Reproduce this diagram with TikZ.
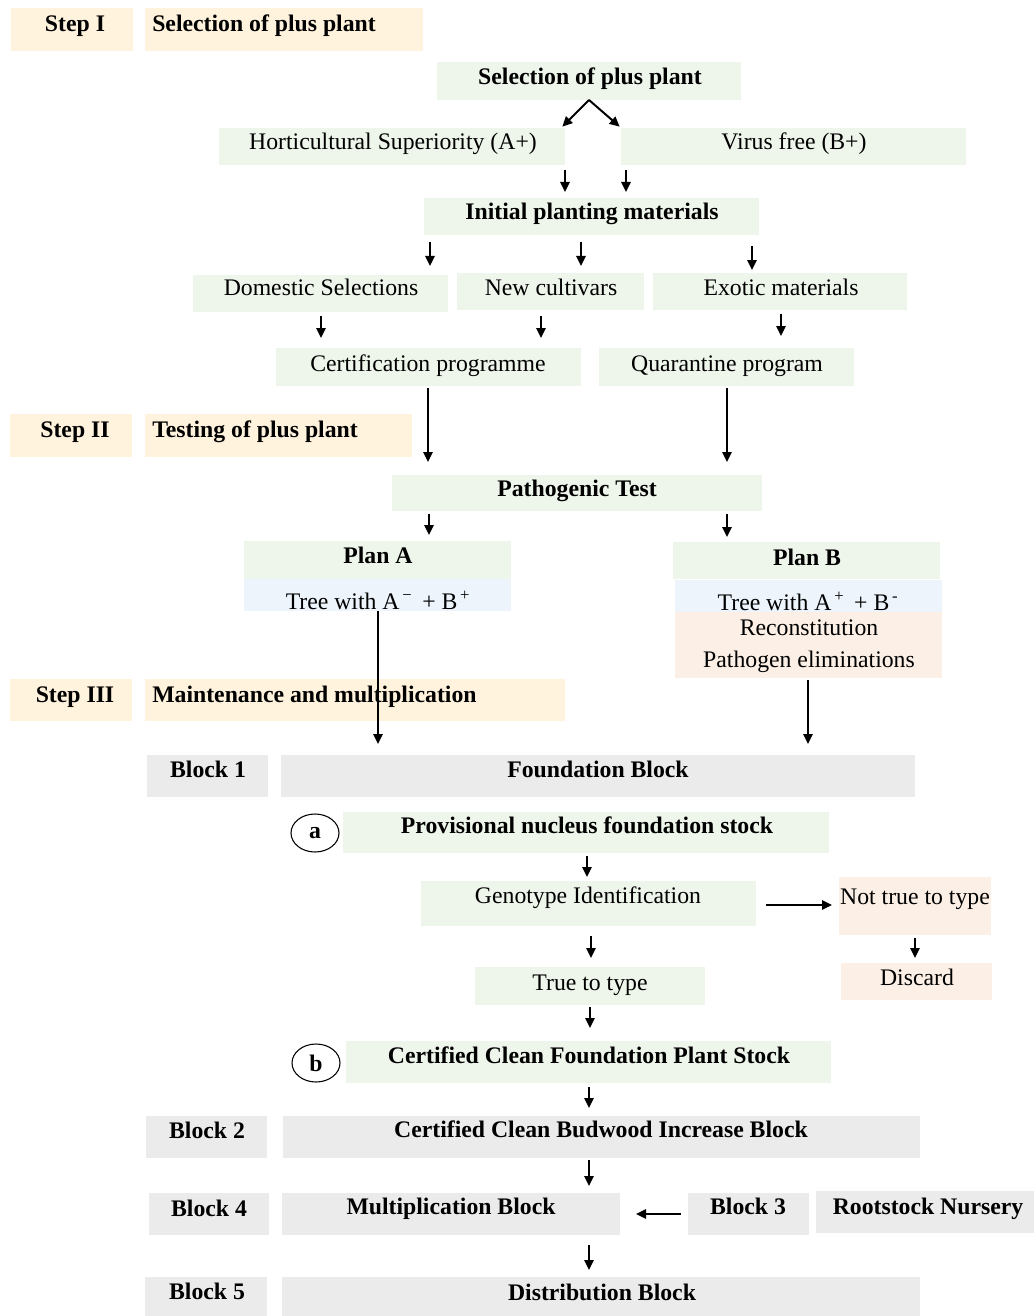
\documentclass[tikz,border=0pt]{standalone}
\usepackage{fontspec}
\setmainfont{Liberation Serif}
\usetikzlibrary{arrows.meta,shapes.geometric}
\definecolor{cream}{HTML}{FFF3DD}
\definecolor{lgreen}{HTML}{EEF5EA}
\definecolor{lblue}{HTML}{EDF4FB}
\definecolor{peach}{HTML}{FBEFE6}
\definecolor{lgray}{HTML}{EBEBEB}
\newcommand\bx[6]{\node[boxs,fill=#6,minimum width={(#4-#2)*0.75pt},minimum height={(#5-#3)*0.75pt}] (#1) at ({(#2+#4)/2},{(#3+#5)/2}) {};}
\begin{document}
\begin{tikzpicture}[x=0.75pt,y=-0.75pt,
  boxs/.style={draw=none,inner sep=0pt,outer sep=0pt,rectangle},
  tn/.style={anchor=base,inner sep=0pt,font=\fontsize{17.8}{20}\selectfont},
  tb/.style={tn,font=\fontsize{17.8}{20}\selectfont\bfseries},
  tl/.style={tb,anchor=base west},
  arr/.style={line width=1.5pt,-{Triangle[length=7.5pt,width=7pt]}},
  circ/.style={draw,ellipse,line width=0.8pt,inner sep=0pt,minimum width=36pt,minimum height=28.5pt,font=\fontsize{17.8}{20}\selectfont\bfseries}]
\useasboundingbox (0,0) rectangle (1034,1316);
% Step I
\bx{s1}{11}{8}{133}{51}{cream}
\node[tb] (s1t) at (75,32) {Step I};
\bx{h1}{145}{8}{423}{51}{cream}
\node[tl] (h1t) at (152,32) {Selection of plus plant};
\bx{sel}{437}{62}{741}{100}{lgreen}
\node[tb] (selt) at (590,85) {Selection of plus plant};
\bx{hort}{219}{128}{565}{165}{lgreen}
\node[tn] (hortt) at (393,150) {Horticultural Superiority (A+)};
\bx{vir}{621}{128}{966}{165}{lgreen}
\node[tn] (virt) at (794,150) {Virus free (B+)};
\bx{init}{424}{198}{759}{235}{lgreen}
\node[tb] (initt) at (592,220) {Initial planting materials};
\bx{dom}{193}{275}{448}{312}{lgreen}
\node[tn] (domt) at (321,296) {Domestic Selections};
\bx{newc}{457}{273}{644}{310}{lgreen}
\node[tn] (newct) at (551,296) {New cultivars};
\bx{exo}{653}{273}{907}{310}{lgreen}
\node[tn] (exot) at (781,296) {Exotic materials};
\bx{cert}{276}{348}{581}{386}{lgreen}
\node[tn] (certt) at (428,371) {Certification programme};
\bx{quar}{599}{348}{854}{386}{lgreen}
\node[tn] (quart) at (727,371) {Quarantine program};
% Step II
\bx{s2}{10}{414}{132}{457}{cream}
\node[tb] (s2t) at (75,437) {Step II};
\bx{h2}{145}{414}{412}{457}{cream}
\node[tl] (h2t) at (152,437) {Testing of plus plant};
\bx{path}{392}{475}{762}{511}{lgreen}
\node[tb] (patht) at (577,496) {Pathogenic Test};
\bx{pa}{244}{541}{511}{579}{lgreen}
\node[tb] (pat) at (378,563) {Plan A};
\bx{ta}{244}{579}{511}{611}{lblue}
\node[tn] (tat) at (378,609) {Tree with A\textsuperscript{\,−}\,\ + B\textsuperscript{\,+}};
\bx{pb}{673}{542}{940}{579}{lgreen}
\node[tb] (pbt) at (807,565) {Plan B};
\bx{tb}{675}{580}{942}{612}{lblue}
\node[tn] (tbt) at (808,610) {Tree with A\textsuperscript{\,+}\,\ + B\textsuperscript{\,-}};
\bx{rec}{675}{612}{942}{645}{peach}
\node[tn] (rect) at (809,635) {Reconstitution};
\bx{pel}{675}{645}{942}{678}{peach}
\node[tn] (pelt) at (809,667) {Pathogen eliminations};
% Step III
\bx{s3}{10}{679}{132}{721}{cream}
\node[tb] (s3t) at (75,702) {Step III};
\bx{h3}{145}{679}{565}{721}{cream}
\node[tl] (h3t) at (152,702) {Maintenance and multiplication};
\bx{b1}{147}{755}{268}{797}{lgray}
\node[tb] (b1t) at (208,777) {Block 1};
\bx{fb}{281}{755}{915}{797}{lgray}
\node[tb] (fbt) at (598,777) {Foundation Block};
\node[circ] (ca) at (315,833) {a};
\bx{prov}{343}{812}{829}{853}{lgreen}
\node[tb] (provt) at (587,833) {Provisional nucleus foundation stock};
\bx{geno}{421}{881}{756}{926}{lgreen}
\node[tn] (genot) at (588,903) {Genotype Identification};
\bx{nt}{839}{877}{991}{935}{peach}
\node[tn] (ntt) at (915,904) {Not true to type};
\bx{disc}{841}{963}{992}{1000}{peach}
\node[tn] (disct) at (917,985) {Discard};
\bx{tt}{475}{967}{705}{1005}{lgreen}
\node[tn] (ttt) at (590,990) {True to type};
\node[circ] (cb) at (316,1063) {b};
\bx{ccf}{346}{1041}{831}{1083}{lgreen}
\node[tb] (ccft) at (589,1063) {Certified Clean Foundation Plant Stock};
\bx{b2}{146}{1116}{267}{1158}{lgray}
\node[tb] (b2t) at (207,1138) {Block 2};
\bx{ccb}{283}{1116}{920}{1158}{lgray}
\node[tb] (ccbt) at (601,1137) {Certified Clean Budwood Increase Block};
\bx{b4}{149}{1193}{269}{1235}{lgray}
\node[tb] (b4t) at (209,1216) {Block 4};
\bx{mult}{282}{1193}{620}{1235}{lgray}
\node[tb] (multt) at (451,1214) {Multiplication Block};
\bx{b3}{688}{1193}{809}{1235}{lgray}
\node[tb] (b3t) at (748,1214) {Block 3};
\bx{root}{816}{1191}{1034}{1233}{lgray}
\node[tb] (roott) at (928,1214) {Rootstock Nursery};
\bx{b5}{145}{1277}{267}{1316}{lgray}
\node[tb] (b5t) at (207,1299) {Block 5};
\bx{dist}{282}{1277}{920}{1316}{lgray}
\node[tb] (distt) at (602,1300) {Distribution Block};
% arrows
\draw[arr] (sel.south) -- ([xshift=-2pt,yshift=1pt]hort.north east);
\draw[arr] (sel.south) -- ([xshift=-1pt,yshift=1pt]vir.north west);
\draw[arr,shorten <=3.75pt,shorten >=4.5pt] (565,0 |- hort.south) -- (565,0 |- init.north);
\draw[arr,shorten <=3.75pt,shorten >=4.5pt] (626,0 |- vir.south) -- (626,0 |- init.north);
\draw[arr,shorten <=5.25pt,shorten >=6.75pt] (430,0 |- init.south) -- (430,0 |- dom.north);
\draw[arr,shorten <=5.25pt,shorten >=5.25pt] (581,0 |- init.south) -- (581,0 |- newc.north);
\draw[arr,shorten <=8.25pt,shorten >=2.25pt] (752,0 |- init.south) -- (752,0 |- exo.north);
\draw[arr,shorten <=3pt,shorten >=7.5pt] (321,0 |- dom.south) -- (321,0 |- cert.north);
\draw[arr,shorten <=4.5pt,shorten >=7.5pt] (541,0 |- newc.south) -- (541,0 |- cert.north);
\draw[arr,shorten <=3pt,shorten >=9pt] (781,0 |- exo.south) -- (781,0 |- quar.north);
\draw[arr,shorten <=1.5pt,shorten >=9.75pt] (428,0 |- cert.south) -- (428,0 |- path.north);
\draw[arr,shorten <=1.5pt,shorten >=9.75pt] (727,0 |- quar.south) -- (727,0 |- path.north);
\draw[arr,shorten <=2.25pt,shorten >=4.5pt] (429,0 |- path.south) -- (429,0 |- pa.north);
\draw[arr,shorten <=2.25pt,shorten >=3.75pt] (727,0 |- path.south) -- (727,0 |- pb.north);
\draw[arr,shorten >=8.25pt] (378,0 |- ta.south) -- (378,0 |- fb.north);
\draw[arr,shorten <=1.5pt,shorten >=8.25pt] (808,0 |- pel.south) -- (808,0 |- fb.north);
\draw[arr,shorten <=2.25pt,shorten >=3pt] (587,0 |- prov.south) -- (587,0 |- geno.north);
\draw[arr,shorten <=7.5pt,shorten >=5.25pt] (geno.east |- 0,905) -- (nt.west |- 0,905);
\draw[arr,shorten <=2.25pt,shorten >=3.75pt] (915,0 |- nt.south) -- (915,0 |- disc.north);
\draw[arr,shorten <=7.5pt,shorten >=6.75pt] (591,0 |- geno.south) -- (591,0 |- tt.north);
\draw[arr,shorten <=1.5pt,shorten >=9.75pt] (590,0 |- tt.south) -- (590,0 |- ccf.north);
\draw[arr,shorten <=3pt,shorten >=6pt] (589,0 |- ccf.south) -- (589,0 |- ccb.north);
\draw[arr,shorten <=1.5pt,shorten >=5.25pt] (589,0 |- ccb.south) -- (589,0 |- mult.north);
\draw[arr,shorten <=5.25pt,shorten >=12pt] (b3.west) -- (mult.east);
\draw[arr,shorten <=7.5pt,shorten >=5.25pt] (589,0 |- mult.south) -- (589,0 |- dist.north);
\end{tikzpicture}
\end{document}
